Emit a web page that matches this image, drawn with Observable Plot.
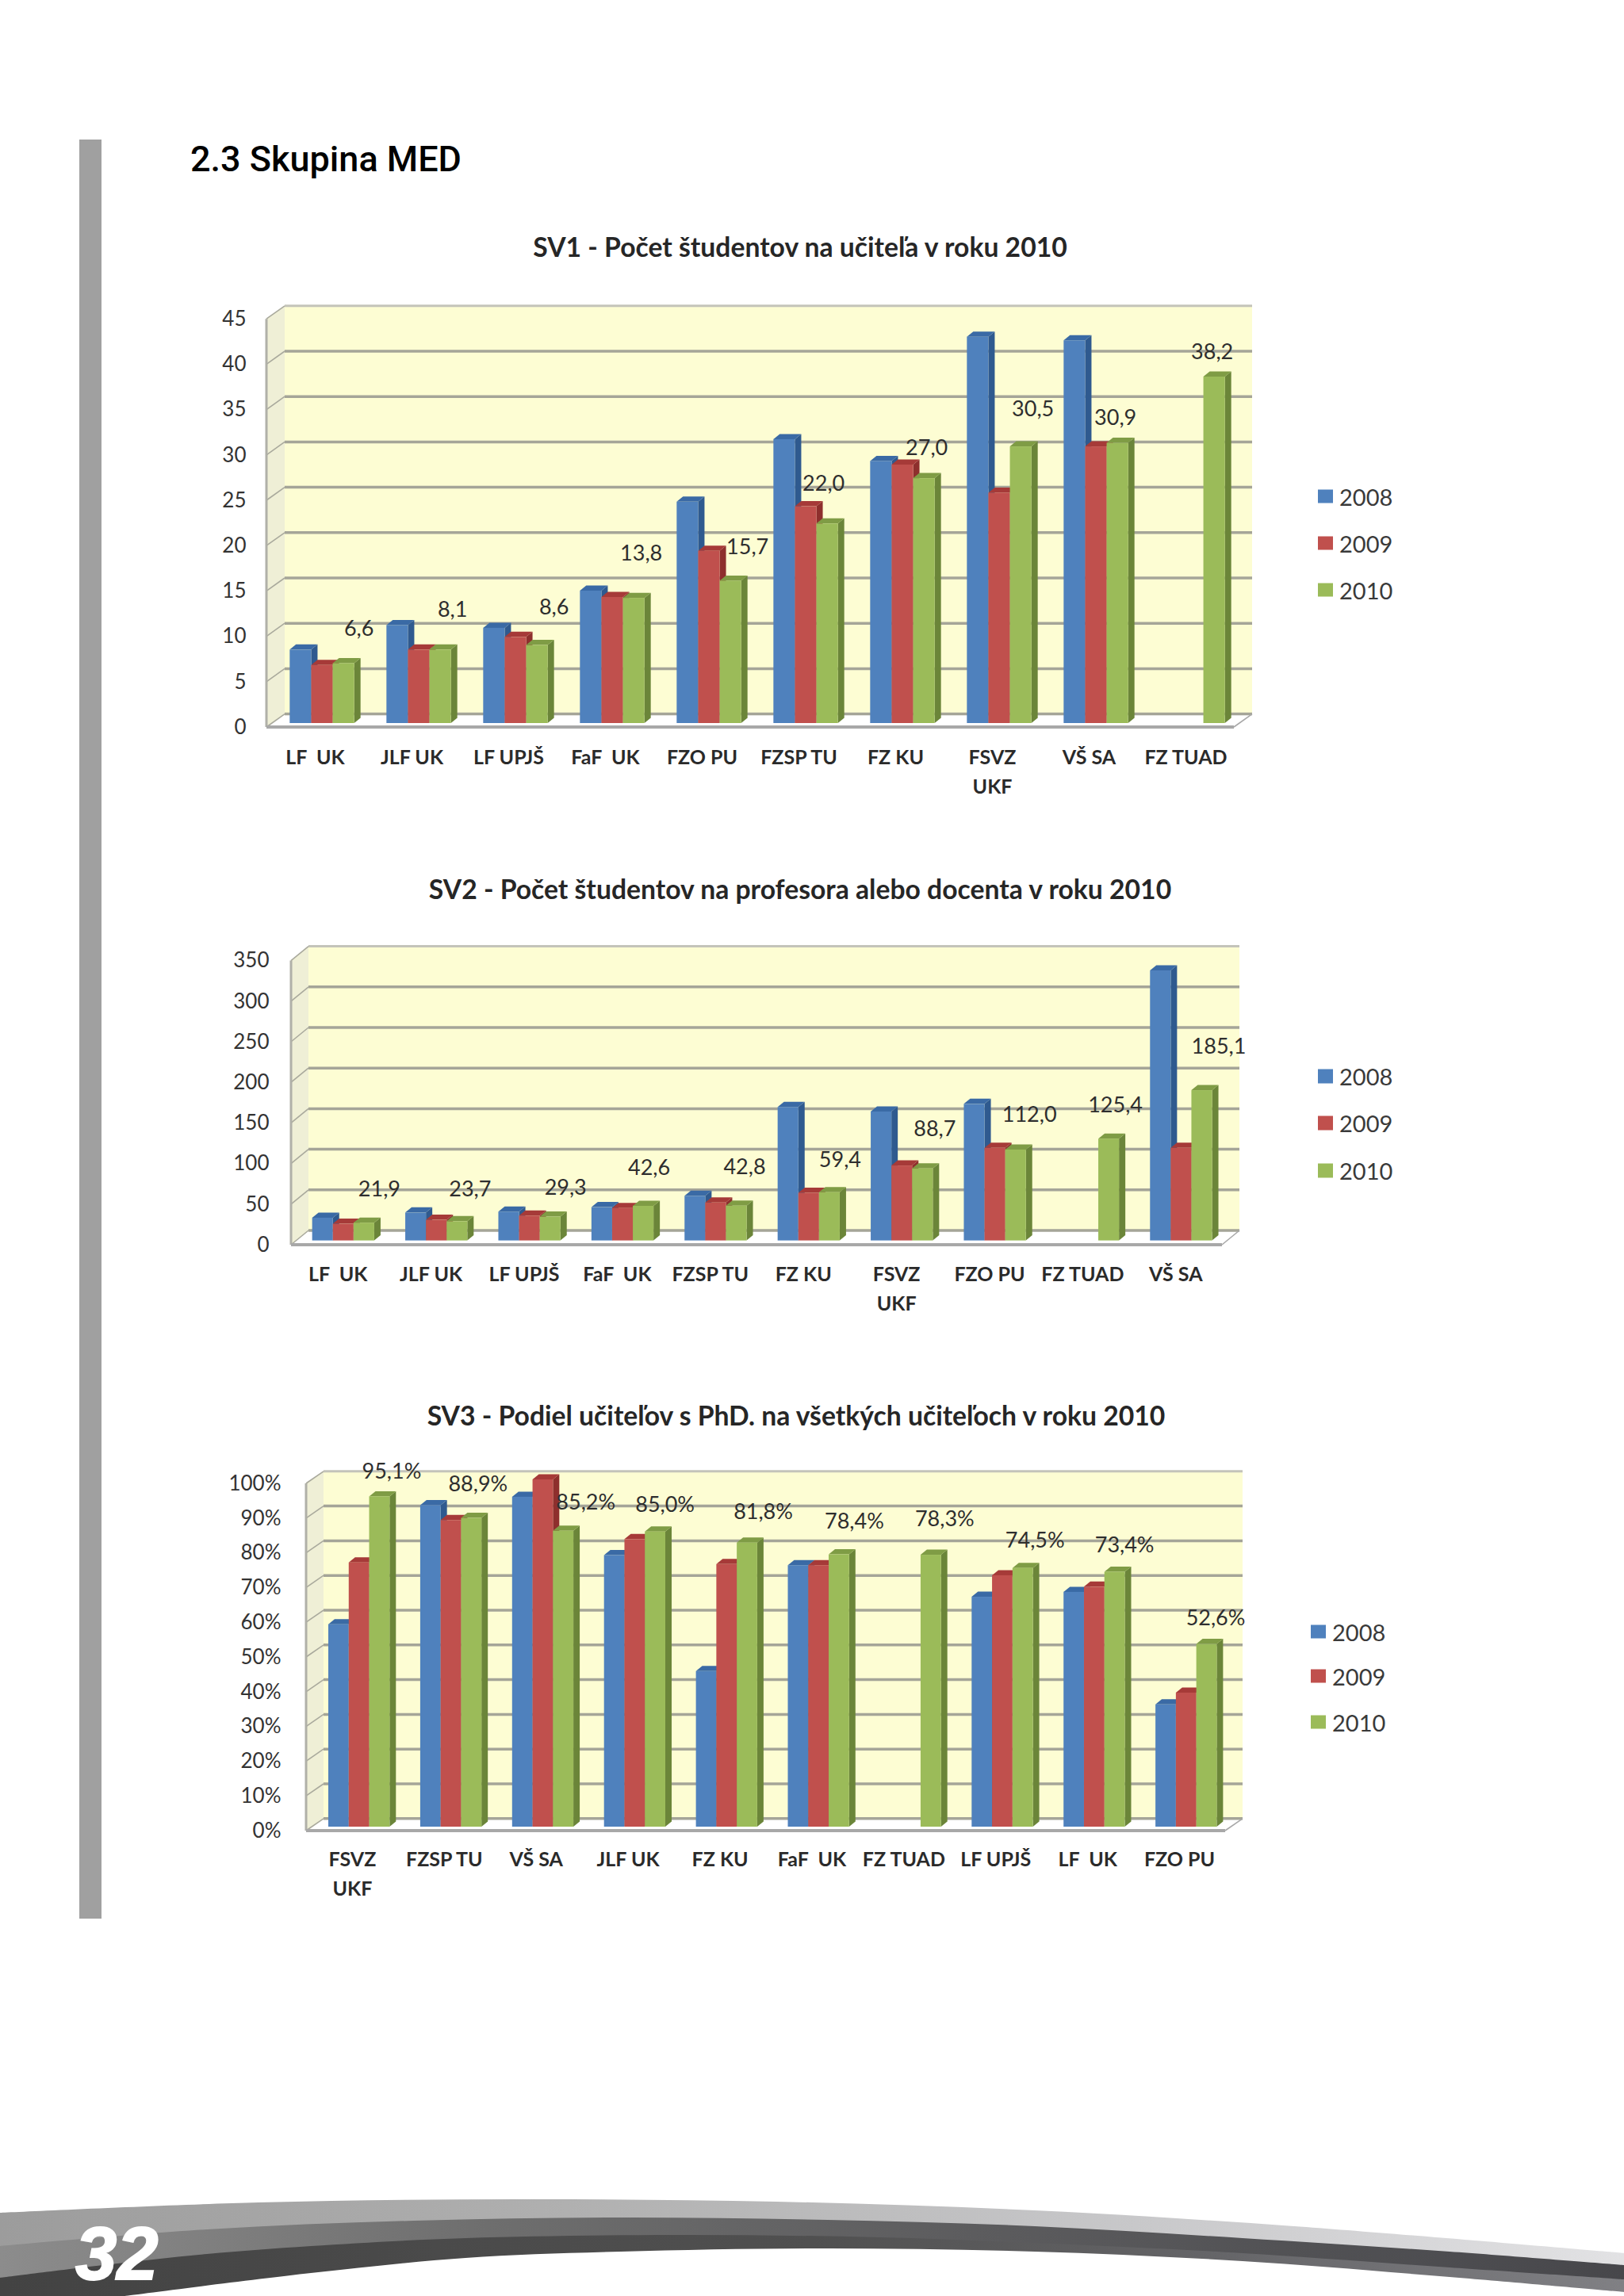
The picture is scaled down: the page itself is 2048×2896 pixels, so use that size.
<!DOCTYPE html>
<html lang="sk">
<head>
<meta charset="utf-8">
<title>2.3 Skupina MED</title>
<script src="https://cdn.jsdelivr.net/npm/d3@7"></script>
<script src="https://cdn.jsdelivr.net/npm/@observablehq/plot@0.6"></script>
<style>
  html,body{margin:0;padding:0;background:#fff;}
  #page{position:relative;width:2048px;height:2896px;overflow:hidden;background:#fff;font-family:Lato,sans-serif;}
  .ttl{position:absolute;transform:translate(-50%,-50%);white-space:nowrap;font-weight:700;color:#262626;line-height:1;}
  .lg{position:absolute;display:flex;align-items:center;color:#3a3a3a;line-height:1;transform:translateY(-50%);}
  .lg i{display:block;}
</style>
</head>
<body>
<div id="page"></div>
<script>
// ---------- data ----------
const years = ["2008", "2009", "2010"];
const yearColors = ["#4f81bd", "#c0504d", "#9bbb59"];
const sideColors = ["#2f5a8f", "#8e2f2d", "#6b8539"];
const topColors  = ["#3a6aa5", "#a63a38", "#7f9c45"];

const sv1Categories = ["LF  UK", "JLF UK", "LF UPJŠ", "FaF  UK", "FZO PU", "FZSP TU", "FZ KU", "FSVZ\nUKF", "VŠ SA", "FZ TUAD"];
const sv1Y2008 = [8.1, 10.8, 10.5, 14.6, 24.4, 31.3, 28.9, 42.6, 42.2, null];
const sv1Y2009 = [6.4, 8.1, 9.5, 13.9, 19.0, 23.9, 28.5, 25.4, 30.5, null];
const sv1Y2010 = [6.6, 8.1, 8.6, 13.8, 15.7, 22.0, 27.0, 30.5, 30.9, 38.2];
const sv1Ticks = [0, 5, 10, 15, 20, 25, 30, 35, 40, 45];
const sv1LabelNudge = [[19,-44],[15,-50],[21,-48],[9,-56],[21,-43],[-5,-50],[3,-38],[15,-47],[-3,-32],[-3,-31]];

const sv2Categories = ["LF  UK", "JLF UK", "LF UPJŠ", "FaF  UK", "FZSP TU", "FZ KU", "FSVZ\nUKF", "FZO PU", "FZ TUAD", "VŠ SA"];
const sv2Y2008 = [28, 34.4, 35.5, 41, 55, 164.4, 158.8, 168.2, null, 332.6];
const sv2Y2009 = [20.5, 25.4, 30.6, 40, 46.7, 58.7, 92.3, 114, null, 114];
const sv2Y2010 = [21.9, 23.7, 29.3, 42.6, 42.8, 59.4, 88.7, 112.0, 125.4, 185.1];
const sv2Ticks = [0, 50, 100, 150, 200, 250, 300, 350];
const sv2LabelNudge = [[19,-42],[16,-40],[19,-37],[7,-48],[10,-49],[13,-41],[15,-50],[17,-44],[8,-42],[21,-55]];

const sv3Categories = ["FSVZ\nUKF", "FZSP TU", "VŠ SA", "JLF UK", "FZ KU", "FaF  UK", "FZ TUAD", "LF UPJŠ", "LF  UK", "FZO PU"];
const sv3Y2008 = [58.3, 92.6, 95, 78.2, 44.8, 75.3, null, 66.2, 67.6, 35.2];
const sv3Y2009 = [76.1, 88.3, 100, 82.8, 75.6, 75.3, null, 72.4, 69.1, 38.6];
const sv3Y2010 = [95.1, 88.9, 85.2, 85.0, 81.8, 78.4, 78.3, 74.5, 73.4, 52.6];
const sv3Ticks = [0, 10, 20, 30, 40, 50, 60, 70, 80, 90, 100];
const sv3LabelNudge = [[15,-32],[8,-43],[28,-36],[12,-34],[20,-39],[19,-42],[17,-45],[15,-35],[12,-34],[11,-33]];

// ---------- layout ----------
const page = document.getElementById("page");
const FONT = "Lato, sans-serif";
const barDepth = [8, 6.5];

function addText(cls, text, css) {
  const el = document.createElement("div");
  el.className = cls;
  el.textContent = text;
  Object.assign(el.style, css);
  page.appendChild(el);
  return el;
}

// the 3D box behind the bars, placed with the chart's own scales
function box(ticks, g) {
  return (index, scales) => {
    const {x, y} = scales;
    const [x0, x1] = x.domain();
    const fx0 = x(x0) + g.front[0], fx1 = x(x1) + g.front[0];
    const bx0 = x(x0) + g.back[0],  bx1 = x(x1) + g.back[0];
    const fy = v => y(v) + g.front[1], by = v => y(v) + g.back[1];
    const top = ticks[ticks.length - 1];
    const root = d3.create("svg:g");
    root.append("polygon").attr("points", [[bx0,by(top)],[bx1,by(top)],[bx1,by(0)],[bx0,by(0)]].join(" ")).attr("fill", "#fdfdd3");
    root.append("polygon").attr("points", [[fx0,fy(top)],[bx0,by(top)],[bx0,by(0)],[fx0,fy(0)]].join(" ")).attr("fill", "#efefd6");
    root.append("polygon").attr("points", [[fx0,fy(0)],[bx0,by(0)],[bx1,by(0)],[fx1,fy(0)]].join(" ")).attr("fill", "#ffffff");
    for (const v of ticks) {
      const isTop = v === top;
      root.append("line").attr("x1", bx0).attr("x2", bx1).attr("y1", by(v)).attr("y2", by(v))
        .attr("stroke", isTop ? "#c4c4ba" : "#a5a598").attr("stroke-width", isTop ? 3 : 3.5);
      root.append("line").attr("x1", fx0).attr("x2", bx0).attr("y1", fy(v)).attr("y2", by(v))
        .attr("stroke", "#a9a99c").attr("stroke-width", 1.6);
    }
    root.append("line").attr("x1", fx0).attr("x2", fx0).attr("y1", fy(top)).attr("y2", fy(0)).attr("stroke", "#b0b0a8").attr("stroke-width", 3);
    root.append("line").attr("x1", fx0).attr("x2", fx1).attr("y1", fy(0)).attr("y2", fy(0)).attr("stroke", "#a8a8a8").attr("stroke-width", 4);
    root.append("line").attr("x1", fx1).attr("x2", bx1).attr("y1", fy(0)).attr("y2", by(0)).attr("stroke", "#a8a8a8").attr("stroke-width", 1.6);
    return root.node();
  };
}

// adds the top and side faces to each rect the library drew
function bar3d(index, scales, values, dimensions, context, next) {
  const g = next(index, scales, values, dimensions, context);
  const rects = g.querySelectorAll("rect");
  const [dx, dy] = barDepth;
  Array.from(index).forEach((i, n) => {
    const rect = rects[n];
    const k = yearColors.indexOf(values.fill[i]);
    const xl = Math.min(values.x1[i], values.x2[i]), xr = Math.max(values.x1[i], values.x2[i]);
    const yt = Math.min(values.y1[i], values.y2[i]), yb = Math.max(values.y1[i], values.y2[i]);
    const side = document.createElementNS("http://www.w3.org/2000/svg", "polygon");
    side.setAttribute("points", [[xr,yt],[xr+dx,yt-dy],[xr+dx,yb-dy],[xr,yb]].join(" "));
    side.setAttribute("fill", sideColors[k]);
    const lid = document.createElementNS("http://www.w3.org/2000/svg", "polygon");
    lid.setAttribute("points", [[xl,yt],[xl+dx,yt-dy],[xr+dx,yt-dy],[xr,yt]].join(" "));
    lid.setAttribute("fill", topColors[k]);
    rect.parentNode.insertBefore(side, rect);
    rect.parentNode.insertBefore(lid, rect);
  });
  return g;
}

function chart(cfg) {
  const {cats, series, ticks, nudge, top, height, xRange, base, perUnit, geom, axisRight, labelTop, suffix} = cfg;
  const rows = [];
  series.forEach((vals, k) => vals.forEach((v, i) => { if (v != null) rows.push({i, k, year: years[k], v}); }));
  const maxV = ticks[ticks.length - 1];
  const groupCenters = cats.map((_, i) => i + 0.5);
  const lastSeries = series[series.length - 1];
  const fmt = v => v.toFixed(1).replace(".", ",") + suffix;
  const dataLabels = lastSeries.map((v, i) => Plot.text([{i, v}], {
    x: d => d.i + 1/6 + 2 * 2/9 + 1/9,
    y: d => d.v,
    text: d => fmt(d.v),
    dx: nudge[i][0], dy: nudge[i][1],
    fontSize: 27, fill: "#2e2e2e", lineAnchor: "middle"
  }));
  const svg = Plot.plot({
    width: 2048, height,
    marginTop: 0, marginRight: 0,
    marginLeft: axisRight,
    marginBottom: height - labelTop,
    style: {fontFamily: FONT, background: "transparent", overflow: "visible", fontSize: "26px"},
    x: {domain: [0, cats.length], range: xRange},
    y: {domain: [0, maxV], range: [base - top, base - top - perUnit * maxV]},
    color: {domain: years, range: yearColors},
    marks: [
      box(ticks, geom),
      Plot.rect(rows, {
        x1: d => d.i + 1/6 + d.k * 2/9,
        x2: d => d.i + 1/6 + (d.k + 1) * 2/9,
        y1: () => 0,
        y2: d => d.v,
        fill: "year",
        render: bar3d
      }),
      Plot.axisY(ticks, {
        anchor: "left", tickSize: 0, tickPadding: 0, label: null,
        tickFormat: d => d + (suffix || ""),
        dy: geom.front[1], fontSize: 26, fill: "#333"
      }),
      Plot.axisX(groupCenters, {
        anchor: "bottom", tickSize: 0, tickPadding: 0, label: null,
        tickFormat: d => cats[Math.floor(d)],
        dx: geom.front[0], fontSize: 25, fontWeight: 700, fill: "#2a2a2a", lineHeight: 1.46
      }),
      ...dataLabels
    ]
  });
  svg.style.position = "absolute";
  svg.style.left = "0";
  svg.style.top = top + "px";
  page.appendChild(svg);
}

function legend(x, ys, swatchH) {
  years.forEach((yr, k) => {
    const row = addText("lg", "", {left: x + "px", top: ys[k] + "px", fontSize: "29px"});
    const sw = document.createElement("i");
    Object.assign(sw.style, {width: "19px", height: swatchH + "px", background: yearColors[k], marginRight: "8px"});
    row.appendChild(sw);
    row.appendChild(document.createTextNode(yr));
  });
}

// ---------- page furniture ----------
const bar = document.createElement("div");
Object.assign(bar.style, {position: "absolute", left: "100px", top: "176px", width: "28px", height: "2244px", background: "#a0a0a0"});
page.appendChild(bar);
addText("ttl", "2.3 Skupina MED", {left: "240px", top: "200px", transform: "translateY(-50%)", fontFamily: "Roboto, sans-serif", fontWeight: 500, fontSize: "45px", color: "#000"});

addText("ttl", "SV1 - Počet študentov na učiteľa v roku 2010", {left: "1009px", top: "312px", fontSize: "33.7px"});
addText("ttl", "SV2 - Počet študentov na profesora alebo docenta v roku 2010", {left: "1009px", top: "1122px", fontSize: "33.7px"});
addText("ttl", "SV3 - Podiel učiteľov s PhD. na všetkých učiteľoch v roku 2010", {left: "1004px", top: "1786px", fontSize: "33.7px"});

chart({cats: sv1Categories, series: [sv1Y2008, sv1Y2009, sv1Y2010], ticks: sv1Ticks, nudge: sv1LabelNudge,
  top: 360, height: 660, xRange: [345, 1565], base: 912, perUnit: 11.44,
  geom: {front: [-9, 5], back: [14, -11.4]}, axisRight: 310, labelTop: 578, suffix: ""});
chart({cats: sv2Categories, series: [sv2Y2008, sv2Y2009, sv2Y2010], ticks: sv2Ticks, nudge: sv2LabelNudge,
  top: 1160, height: 500, xRange: [374.1, 1548.1], base: 1564.6, perUnit: 1.024,
  geom: {front: [-7.1, 5.4], back: [14.9, -12.6]}, axisRight: 339, labelTop: 430, suffix: ""});
chart({cats: sv3Categories, series: [sv3Y2008, sv3Y2009, sv3Y2010], ticks: sv3Ticks, nudge: sv3LabelNudge,
  top: 1830, height: 570, xRange: [394.7, 1553.7], base: 2304, perUnit: 4.38,
  geom: {front: [-8.7, 5], back: [13.3, -10.2]}, axisRight: 354, labelTop: 498, suffix: "%"});

legend(1662, [626, 685, 744], 17);
legend(1662, [1357, 1416, 1476], 18);
legend(1653, [2058, 2114, 2172], 17);

// ---------- footer swoosh ----------
const edgeLight = [[0,2791],[326,2778],[653,2774],[979,2777],[1305,2788],[1632,2808],[2048,2842]];
const edgeMid   = [[0,2833],[261,2812],[522,2801],[783,2797],[1044,2800],[1305,2808],[1567,2823],[1828,2840],[2048,2857]];
const edgeDark  = [[0,2873],[130,2857],[261,2843],[392,2833],[587,2823],[849,2819],[1110,2822],[1371,2832],[1567,2842],[1828,2860],[2048,2875]];
const edgeWhite = [[157,2896],[392,2867],[587,2848],[783,2840],[1044,2836],[1305,2840],[1567,2852],[1828,2872],[2048,2891]];
const curve = d3.line().curve(d3.curveCatmullRom);
const below = pts => curve(pts) + "L2048,2896L0,2896Z";
const footer = d3.create("svg").attr("width", 2048).attr("height", 2896)
  .style("position", "absolute").style("left", 0).style("top", 0).style("pointer-events", "none");
const defs = footer.append("defs");
function grad(id, stops) {
  const lg = defs.append("linearGradient").attr("id", id).attr("x1", 0).attr("x2", 1).attr("y1", 0).attr("y2", 0);
  stops.forEach(([o, c]) => lg.append("stop").attr("offset", o).attr("stop-color", c));
  return `url(#${id})`;
}
footer.append("path").attr("d", below(edgeLight)).attr("fill", grad("gLight", [[0,"#9c9c9c"],[.35,"#b0b0b0"],[.7,"#c8c8ca"],[1,"#e2e2e4"]]));
footer.append("path").attr("d", below(edgeMid)).attr("fill", grad("gMid", [[0,"#8c8c8c"],[.3,"#6e6e6e"],[.6,"#5c5c5e"],[1,"#47474b"]]));
footer.append("path").attr("d", below(edgeDark)).attr("fill", grad("gDark", [[0,"#434343"],[.5,"#505050"],[.75,"#656568"],[1,"#808084"]]));
footer.append("path").attr("d", curve(edgeWhite) + "L2048,2896Z").attr("fill", "#fff");
footer.append("text").attr("x", 95).attr("y", 2875).attr("fill", "#fff")
  .attr("font-family", "Liberation Sans, sans-serif").attr("font-weight", 700).attr("font-style", "italic")
  .attr("font-size", 94).attr("stroke", "#fff").attr("stroke-width", 2).text("32");
page.appendChild(footer.node());
</script>
</body>
</html>
